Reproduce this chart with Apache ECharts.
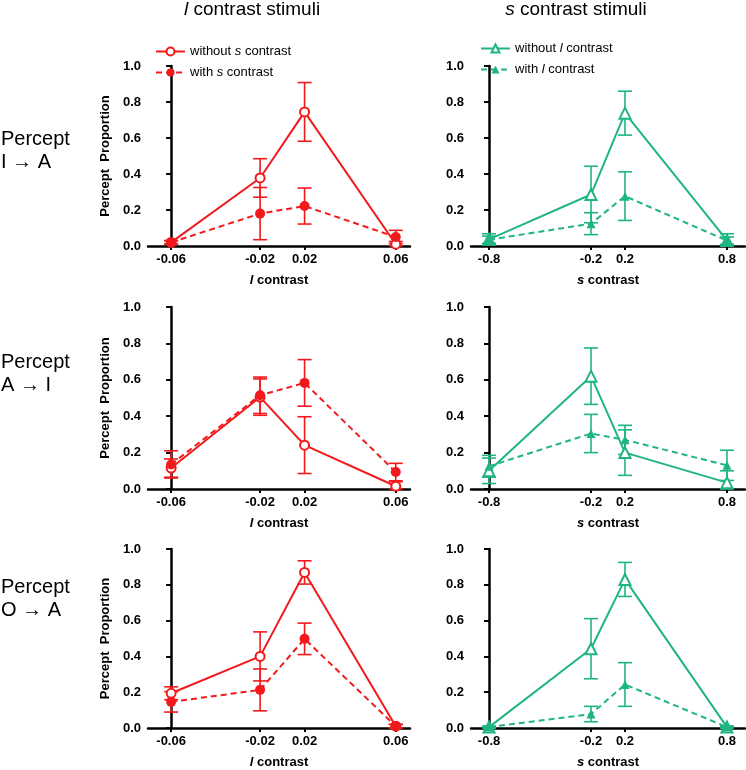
<!DOCTYPE html>
<html>
<head>
<meta charset="utf-8">
<script src="https://cdn.jsdelivr.net/npm/echarts@6/dist/echarts.min.js"></script>
<style>html,body{margin:0;padding:0;background:#fff}#c{width:746px;height:770px}</style>
</head>
<body>
<div id="c"></div>
<script>
// ---------- data ----------
const lContrast = [-0.06, -0.02, 0.02, 0.06];
const sContrast = [-0.8, -0.2, 0.2, 0.8];
const lTickLabels = ['-0.06', '-0.02', '0.02', '0.06'];
const sTickLabels = ['-0.8', '-0.2', '0.2', '0.8'];
const rowLabels = ['Percept\nI \u2192 A', 'Percept\nA \u2192 I', 'Percept\nO \u2192 A'];

// Row 1: Percept I -> A
const iaLWithout    = [0.02, 0.378, 0.745, 0.01];
const iaLWithoutErr = [0.01, 0.107, 0.163, 0.015];
const iaLWith       = [0.02, 0.18, 0.222, 0.05];
const iaLWithErr    = [0.01, 0.145, 0.10, 0.037];
const iaSWithout    = [0.037, 0.286, 0.738, 0.031];
const iaSWithoutErr = [0.031, 0.157, 0.122, 0.037];
const iaSWith       = [0.035, 0.124, 0.277, 0.03];
const iaSWithErr    = [0.02, 0.061, 0.135, 0.02];

// Row 2: Percept A -> I
const aiLWithout    = [0.115, 0.505, 0.241, 0.015];
const aiLWithoutErr = [0.05, 0.10, 0.156, 0.025];
const aiLWith       = [0.135, 0.515, 0.583, 0.093];
const aiLWithErr    = [0.075, 0.10, 0.128, 0.048];
const aiSWithout    = [0.10, 0.62, 0.20, 0.035];
const aiSWithoutErr = [0.07, 0.155, 0.125, 0.065];
const aiSWith       = [0.125, 0.305, 0.27, 0.13];
const aiSWithErr    = [0.06, 0.105, 0.08, 0.083];

// Row 3: Percept O -> A
const oaLWithout    = [0.194, 0.40, 0.869, 0.01];
const oaLWithoutErr = [0.036, 0.137, 0.065, 0.01];
const oaLWith       = [0.146, 0.213, 0.498, 0.01];
const oaLWithErr    = [0.057, 0.117, 0.088, 0.01];
const oaSWithout    = [0.005, 0.443, 0.83, 0.005];
const oaSWithoutErr = [0.005, 0.168, 0.095, 0.005];
const oaSWith       = [0.005, 0.078, 0.243, 0.005];
const oaSWithErr    = [0.005, 0.043, 0.122, 0.005];

// ---------- layout / style ----------
const RED = '#f2191c';
const GREEN = '#1fb583';
const FONT = '"Liberation Sans", Arial, sans-serif';
// uneven axis layout (slot positions of the 4 contrast levels)
const lSlots = [0, 2, 3, 5.05];
const sSlots = [0, 3, 4, 7];
const lRange = [-0.52, 5.37];
const sRange = [-0.53, 7.53];
const colLeft = [148, 471];
const colWidth = [262, 274];
const rowTop = [66, 307, 549];
const rowHeight = [180, 182, 180];

const rows = [
  [iaLWithout, iaLWithoutErr, iaLWith, iaLWithErr, iaSWithout, iaSWithoutErr, iaSWith, iaSWithErr],
  [aiLWithout, aiLWithoutErr, aiLWith, aiLWithErr, aiSWithout, aiSWithoutErr, aiSWith, aiSWithErr],
  [oaLWithout, oaLWithoutErr, oaLWith, oaLWithErr, oaSWithout, oaSWithoutErr, oaSWith, oaSWithErr]
];

const grids = [], xAxes = [], yAxes = [], series = [];

function slotOf(xs, slots, v) { return slots[xs.indexOf(v)]; }

function errRender(params, api) {
  const x = api.value(0);
  const top = api.coord([x, api.value(2)]);
  const bot = api.coord([x, api.value(1)]);
  const hw = 7;
  const style = { stroke: api.visual('color'), lineWidth: 1.6 };
  return {
    type: 'group',
    children: [
      { type: 'line', shape: { x1: top[0], y1: top[1], x2: bot[0], y2: bot[1] }, style: style },
      { type: 'line', shape: { x1: top[0] - hw, y1: top[1], x2: top[0] + hw, y2: top[1] }, style: style },
      { type: 'line', shape: { x1: bot[0] - hw, y1: bot[1], x2: bot[0] + hw, y2: bot[1] }, style: style }
    ]
  };
}

function addSeries(g, name, xs, slots, ys, es, color, symbol, size, dashed) {
  series.push({
    type: 'custom', xAxisIndex: g, yAxisIndex: g, z: 1, silent: true,
    renderItem: errRender, itemStyle: { color: color },
    encode: { x: 0, y: [1, 2] },
    data: xs.map((x, i) => [slotOf(xs, slots, x), Math.max(0, ys[i] - es[i]), ys[i] + es[i]])
  });
  series.push({
    type: 'line', name: name, xAxisIndex: g, yAxisIndex: g, z: 3,
    symbol: symbol, symbolSize: size, showAllSymbol: true,
    itemStyle: { color: color, borderWidth: 1.6 },
    lineStyle: { color: color, width: 2, type: dashed ? [6, 4] : 'solid' },
    data: xs.map((x, i) => [slotOf(xs, slots, x), ys[i]])
  });
}

const axisLineStyle = { color: '#000', width: 2.5 };
const tickLabelStyle = { color: '#000', fontWeight: 'bold', fontSize: 13, fontFamily: FONT };

for (let r = 0; r < 3; r++) {
  for (let c = 0; c < 2; c++) {
    const g = r * 2 + c;
    grids.push({ left: colLeft[c], top: rowTop[r], width: colWidth[c], height: rowHeight[r] });
    const slots = c === 0 ? lSlots : sSlots;
    const labels = c === 0 ? lTickLabels : sTickLabels;
    const range = c === 0 ? lRange : sRange;
    xAxes.push({
      type: 'value', gridIndex: g, min: range[0], max: range[1],
      axisLine: { show: true, onZero: false, lineStyle: axisLineStyle },
      axisTick: { show: true, customValues: slots, length: 4, lineStyle: { color: '#000', width: 2 } },
      axisLabel: Object.assign({ customValues: slots, margin: 7, formatter: v => labels[slots.indexOf(v)] }, tickLabelStyle),
      splitLine: { show: false },
      name: c === 0 ? '{i|l}{b| contrast}' : '{i|s}{b| contrast}',
      nameLocation: 'middle', nameGap: 28,
      nameTextStyle: {
        fontFamily: FONT, fontSize: 13, fontWeight: 'bold', color: '#000',
        rich: {
          i: { fontFamily: FONT, fontSize: 13, fontWeight: 'bold', fontStyle: 'italic', color: '#000' },
          b: { fontFamily: FONT, fontSize: 13, fontWeight: 'bold', color: '#000' }
        }
      }
    });
    yAxes.push({
      type: 'value', gridIndex: g, min: 0, max: 1, interval: 0.2,
      axisLine: { show: true, lineStyle: axisLineStyle },
      axisTick: { show: true, length: 5, lineStyle: { color: '#000', width: 2 } },
      axisLabel: Object.assign({ margin: 7, formatter: v => v.toFixed(1) }, tickLabelStyle),
      splitLine: { show: false },
      name: c === 0 ? 'Percept  Proportion' : '',
      nameLocation: 'middle', nameGap: 36,
      nameTextStyle: { fontFamily: FONT, fontSize: 13, fontWeight: 'bold', color: '#000' }
    });
    const d = rows[r];
    if (c === 0) {
      addSeries(g, 'without s contrast', lContrast, lSlots, d[0], d[1], RED, 'emptyCircle', 9, false);
      addSeries(g, 'with s contrast', lContrast, lSlots, d[2], d[3], RED, 'circle', 10, true);
    } else {
      addSeries(g, 'without l contrast', sContrast, sSlots, d[4], d[5], GREEN, 'emptyTriangle', 11, false);
      addSeries(g, 'with l contrast', sContrast, sSlots, d[6], d[7], GREEN, 'triangle', 9, true);
    }
  }
}

const legendFmt = name => name.replace(/ (s|l) /, ' {i|$1} ');
const legendText = {
  fontFamily: FONT, fontSize: 13, color: '#000',
  rich: { i: { fontFamily: FONT, fontSize: 13, fontStyle: 'italic', color: '#000' } }
};

const graphic = [];
rowLabels.forEach((t, r) => {
  graphic.push({
    type: 'text', left: 1, top: [128, 351, 576][r],
    style: { text: t, font: '20px ' + FONT, fill: '#000', lineHeight: 23 }
  });
});
[['{i|l}{n| contrast stimuli}', 252], ['{i|s}{n| contrast stimuli}', 576]].forEach(([t, x]) => {
  graphic.push({
    type: 'text', x: x, y: 10,
    style: {
      text: t, align: 'center', verticalAlign: 'middle',
      rich: {
        i: { fontFamily: FONT, fontSize: 19, fontStyle: 'italic', fill: '#000', color: '#000' },
        n: { fontFamily: FONT, fontSize: 19, fill: '#000', color: '#000' }
      }
    }
  });
});

const chart = echarts.init(document.getElementById('c'), null, { renderer: 'canvas' });
chart.setOption({
  animation: false,
  backgroundColor: '#fff',
  grid: grids,
  xAxis: xAxes,
  yAxis: yAxes,
  legend: [
    {
      left: 155, top: 45, padding: 0, orient: 'vertical', itemWidth: 29, itemHeight: 10, itemGap: 8,
      selectedMode: false, data: ['without s contrast', 'with s contrast'],
      formatter: legendFmt, textStyle: legendText
    },
    {
      left: 480, top: 42, padding: 0, orient: 'vertical', itemWidth: 29, itemHeight: 10, itemGap: 8,
      selectedMode: false, data: ['without l contrast', 'with l contrast'],
      formatter: legendFmt, textStyle: legendText
    }
  ],
  graphic: graphic,
  series: series
});
</script>
</body>
</html>
